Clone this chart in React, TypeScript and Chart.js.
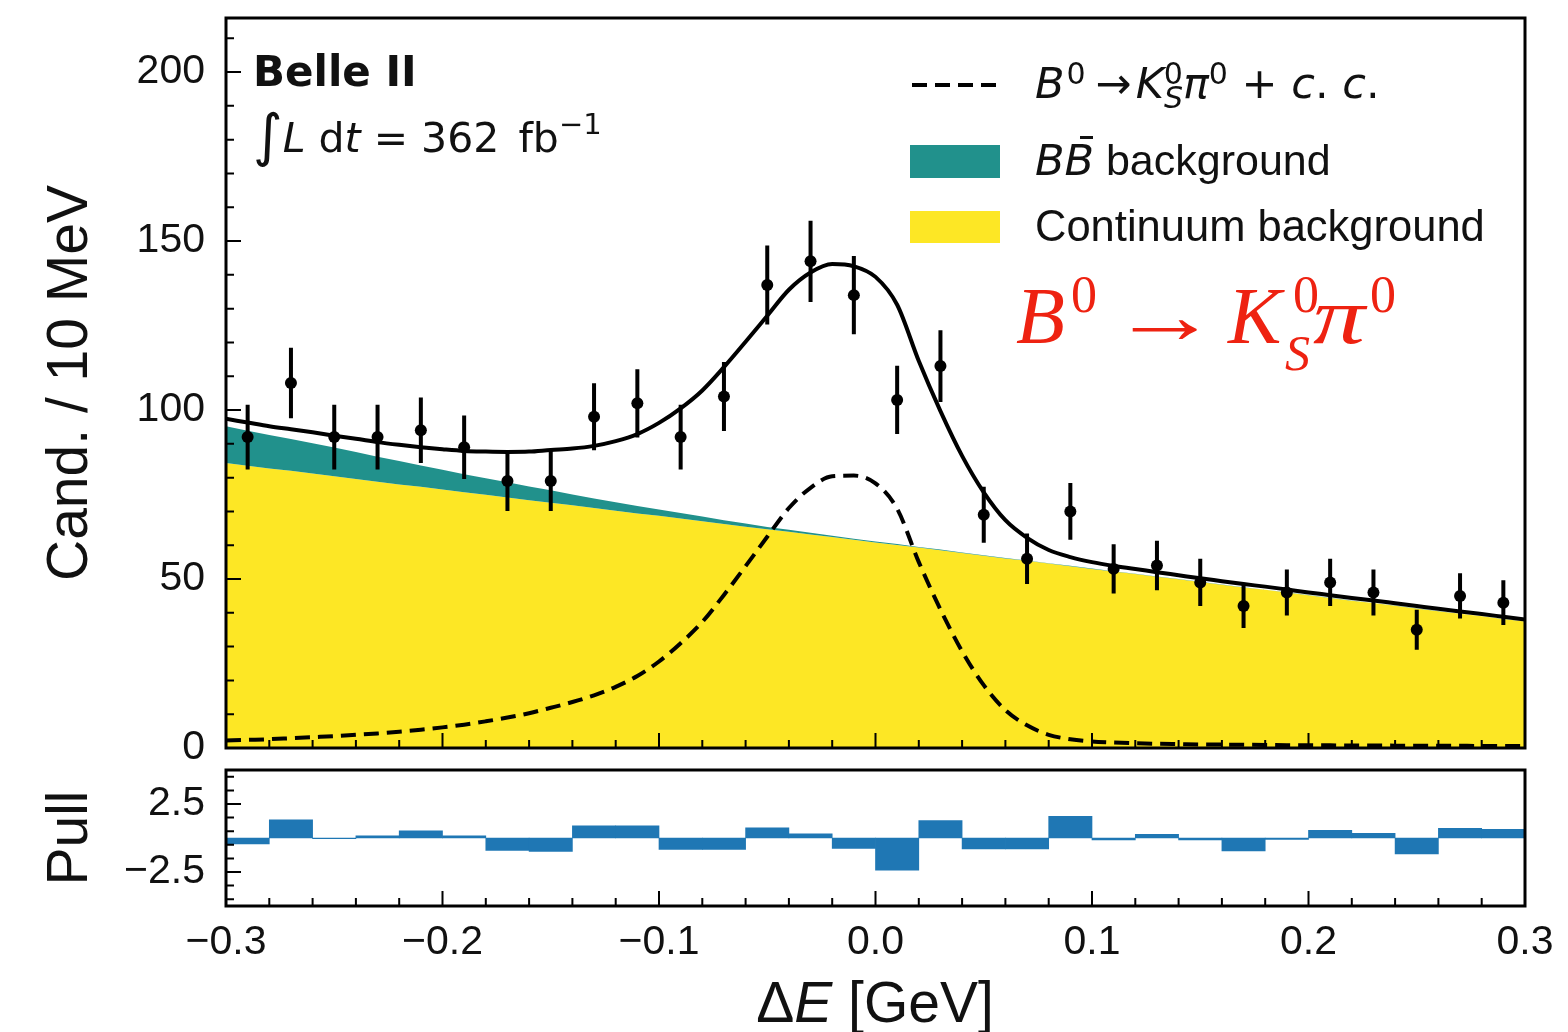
import React, { useEffect, useRef } from 'react';
import { Chart, registerables } from 'chart.js';

Chart.register(...registerables);

// ---------------- data ----------------
const binCenters = [-0.29, -0.27, -0.25, -0.23, -0.21, -0.19, -0.17, -0.15, -0.13, -0.11, -0.09, -0.07, -0.05, -0.03, -0.01, 0.01, 0.03, 0.05, 0.07, 0.09, 0.11, 0.13, 0.15, 0.17, 0.19, 0.21, 0.23, 0.25, 0.27, 0.29];
const candidates = [92, 108, 92, 92, 94, 89, 79, 79, 98, 102, 92, 104, 137, 144, 134, 103, 113, 69, 56, 70, 53, 54, 49, 42, 46, 49, 46, 35, 45, 43];
const candidateErrors = [9.6, 10.4, 9.6, 9.6, 9.7, 9.4, 8.9, 8.9, 9.9, 10.1, 9.6, 10.2, 11.7, 12.0, 11.6, 10.1, 10.6, 8.3, 7.5, 8.4, 7.3, 7.3, 7.0, 6.5, 6.8, 7.0, 6.8, 5.9, 6.7, 6.6];
const pulls = [-0.43, 1.33, -0.05, 0.16, 0.52, 0.16, -0.91, -0.99, 0.89, 0.89, -0.84, -0.84, 0.74, 0.30, -0.77, -2.36, 1.29, -0.80, -0.80, 1.59, -0.15, 0.27, -0.15, -0.95, -0.10, 0.56, 0.34, -1.17, 0.71, 0.63];

const curveX = [
  -0.30, -0.29, -0.28, -0.27, -0.26, -0.25, -0.24, -0.23, -0.22, -0.21,
  -0.20, -0.19, -0.18, -0.17, -0.16, -0.15, -0.14, -0.13, -0.12, -0.11,
  -0.10, -0.09, -0.08, -0.07, -0.06, -0.05, -0.04, -0.03, -0.02, -0.01,
  0.00, 0.01, 0.02, 0.03, 0.04, 0.05, 0.06, 0.07, 0.08, 0.09,
  0.10, 0.11, 0.12, 0.13, 0.14, 0.15, 0.16, 0.17, 0.18, 0.19,
  0.20, 0.21, 0.22, 0.23, 0.24, 0.25, 0.26, 0.27, 0.28, 0.29, 0.30,
];
const continuumCurve = [
  84.3, 83.5, 82.7, 82.0, 81.2, 80.4, 79.6, 78.8, 78.0, 77.3,
  76.5, 75.7, 74.9, 74.1, 73.3, 72.6, 71.8, 71.0, 70.2, 69.4,
  68.7, 67.9, 67.1, 66.3, 65.5, 64.7, 64.0, 63.2, 62.4, 61.6,
  60.8, 60.1, 59.3, 58.5, 57.7, 56.9, 56.1, 55.4, 54.6, 53.8,
  53.0, 52.2, 51.5, 50.7, 49.9, 49.1, 48.3, 47.5, 46.8, 46.0,
  45.2, 44.4, 43.6, 42.9, 42.1, 41.3, 40.5, 39.7, 39.0, 38.2, 37.4,
];
const bbCurve = [
  10.9, 10.4, 9.9, 9.4, 9.0, 8.5, 8.0, 7.4, 6.9, 6.3,
  5.8, 5.3, 4.9, 4.5, 4.1, 3.7, 3.2, 2.8, 2.5, 2.2,
  1.9, 1.6, 1.4, 1.1, 0.9, 0.7, 0.6, 0.5, 0.4, 0.35,
  0.3, 0.25, 0.2, 0.2, 0.15, 0.15, 0.1, 0.1, 0.1, 0.1,
  0.1, 0.08, 0.08, 0.07, 0.07, 0.06, 0.06, 0.05, 0.05, 0.05,
  0.04, 0.04, 0.04, 0.03, 0.03, 0.03, 0.03, 0.02, 0.02, 0.02, 0.02,
];
const signalCurve = [
  2.2, 2.4, 2.6, 2.9, 3.2, 3.5, 3.9, 4.3, 4.8, 5.4,
  6.1, 6.9, 7.9, 9.0, 10.3, 11.9, 13.6, 15.6, 18.1, 21.3,
  25.6, 31.0, 37.3, 45.3, 53.8, 62.5, 71.0, 77.0, 80.4, 80.6,
  78.3, 70.8, 55.0, 41.0, 28.6, 18.6, 11.2, 6.7, 3.9, 2.6,
  1.9, 1.6, 1.4, 1.25, 1.15, 1.05, 1.0, 0.95, 0.9, 0.85,
  0.8, 0.78, 0.75, 0.72, 0.7, 0.68, 0.66, 0.64, 0.62, 0.6, 0.58,
];

const yTicksMain = [0, 50, 100, 150, 200];
const yTickLabelsMain = ['0', '50', '100', '150', '200'];
const yMinorMain = [10, 20, 30, 40, 60, 70, 80, 90, 110, 120, 130, 140, 160, 170, 180, 190, 210];
const xTicks = [-0.3, -0.2, -0.1, 0, 0.1, 0.2, 0.3];
const xTickLabels = ['\u22120.3', '\u22120.2', '\u22120.1', '0.0', '0.1', '0.2', '0.3'];
const xMinor = [-0.28, -0.26, -0.24, -0.22, -0.18, -0.16, -0.14, -0.12, -0.08, -0.06, -0.04, -0.02, 0.02, 0.04, 0.06, 0.08, 0.12, 0.14, 0.16, 0.18, 0.22, 0.24, 0.26, 0.28];
const pullTicks = [-2.5, 2.5];
const pullTickLabels = ['\u22122.5', '2.5'];
const pullMinor = [-4.5, -3.5, -1.5, -0.5, 0.5, 1.5, 3.5, 4.5];

// ---------------- styles ----------------
const SANS = '"Liberation Sans", Arial, Helvetica, sans-serif';
const DEJAVU = '"DejaVu Sans", sans-serif';
const SERIF = '"Liberation Serif", "Times New Roman", serif';
const INK = '#111111';
const YELLOW = '#fde725';
const TEAL = '#21918c';
const PULL_BLUE = '#1f77b4';
const RED = '#ee2211';

function frameAndTicks(chart: any, yMajor: number[], yMinor: number[]) {
  const { ctx, chartArea: a, scales } = chart;
  const xs = scales.x;
  const ys = scales.y;
  ctx.save();
  ctx.strokeStyle = '#000';
  ctx.lineWidth = 2;
  ctx.beginPath();
  for (const v of xTicks) {
    const px = xs.getPixelForValue(v);
    ctx.moveTo(px, a.bottom);
    ctx.lineTo(px, a.bottom - 15);
  }
  for (const v of xMinor) {
    const px = xs.getPixelForValue(v);
    ctx.moveTo(px, a.bottom);
    ctx.lineTo(px, a.bottom - 8);
  }
  for (const v of yMajor) {
    const py = ys.getPixelForValue(v);
    ctx.moveTo(a.left, py);
    ctx.lineTo(a.left + 15, py);
  }
  for (const v of yMinor) {
    const py = ys.getPixelForValue(v);
    ctx.moveTo(a.left, py);
    ctx.lineTo(a.left + 8, py);
  }
  ctx.stroke();
  ctx.lineWidth = 3;
  ctx.strokeRect(a.left, a.top, a.right - a.left, a.bottom - a.top);
  ctx.restore();
}

const mainPlugin = {
  id: 'mainDecor',
  afterDatasetsDraw(chart: any) {
    const { ctx, scales } = chart;
    const xs = scales.x;
    const ys = scales.y;
    ctx.save();
    ctx.strokeStyle = '#000';
    ctx.lineWidth = 4;
    ctx.beginPath();
    binCenters.forEach((x, i) => {
      const px = xs.getPixelForValue(x);
      ctx.moveTo(px, ys.getPixelForValue(candidates[i] - candidateErrors[i]));
      ctx.lineTo(px, ys.getPixelForValue(candidates[i] + candidateErrors[i]));
    });
    ctx.stroke();
    ctx.restore();
  },
  afterDraw(chart: any) {
    frameAndTicks(chart, yTicksMain, yMinorMain);
    const { ctx } = chart;
    ctx.save();
    // legend handles
    ctx.strokeStyle = '#000';
    ctx.lineWidth = 4;
    ctx.setLineDash([15, 8]);
    ctx.beginPath();
    ctx.moveTo(912, 85);
    ctx.lineTo(1000, 85);
    ctx.stroke();
    ctx.setLineDash([]);
    ctx.fillStyle = TEAL;
    ctx.fillRect(910, 145, 90, 33);
    ctx.fillStyle = YELLOW;
    ctx.fillRect(910, 211, 90, 32);
    ctx.restore();
  },
};

const pullPlugin = {
  id: 'pullDecor',
  afterDraw(chart: any) {
    frameAndTicks(chart, pullTicks, pullMinor);
  },
};

function txt(x: number, base: number, size: number, family: string, k = 0.846): any {
  return {
    position: 'absolute',
    left: x,
    top: base - k * size,
    fontSize: size,
    lineHeight: `${size}px`,
    fontFamily: family,
    whiteSpace: 'nowrap',
    color: INK,
  };
}

const Sup = ({ children, size, rise, ml = 0, italic = false }: any) => (
  <span style={{ fontSize: size, position: 'relative', top: -rise, lineHeight: 0, marginLeft: ml, fontStyle: italic ? 'italic' : 'normal' }}>{children}</span>
);

// piece of the red decay label, placed by baseline
const RedPiece = ({ x, base, size, italic = false, sx = 1, children }: any) => (
  <span
    style={{
      ...txt(x, base, size, SERIF, 0.8375),
      color: RED,
      fontStyle: italic ? 'italic' : 'normal',
      transform: sx !== 1 ? `scaleX(${sx})` : undefined,
      transformOrigin: 'left center',
    }}
  >
    {children}
  </span>
);

export default function App() {
  const mainRef = useRef<HTMLCanvasElement>(null);
  const pullRef = useRef<HTMLCanvasElement>(null);

  useEffect(() => {
    const contPts = curveX.map((x, i) => ({ x, y: continuumCurve[i] }));
    const bbPts = curveX.map((x, i) => ({ x, y: continuumCurve[i] + bbCurve[i] }));
    const sigPts = curveX.map((x, i) => ({ x, y: signalCurve[i] }));
    const totPts = curveX.map((x, i) => ({ x, y: continuumCurve[i] + bbCurve[i] + signalCurve[i] }));
    const dataPts = binCenters.map((x, i) => ({ x, y: candidates[i] }));

    const main = new Chart(mainRef.current as HTMLCanvasElement, {
      type: 'line',
      data: {
        datasets: [
          { label: 'Data', data: dataPts, showLine: false, pointRadius: 6, pointBackgroundColor: '#000', pointBorderWidth: 0, pointBorderColor: '#000', order: 0 } as any,
          { label: 'Fit', data: totPts, borderColor: '#000', borderWidth: 4, pointRadius: 0, fill: false, cubicInterpolationMode: 'monotone', order: 1 },
          { label: 'B0 -> KS pi0 + c.c.', data: sigPts, borderColor: '#000', borderWidth: 4, borderDash: [15, 8], pointRadius: 0, fill: false, cubicInterpolationMode: 'monotone', order: 2 },
          { label: 'BB background', data: bbPts, borderColor: 'rgba(0,0,0,0)', borderWidth: 0, pointRadius: 0, backgroundColor: TEAL, fill: 4, order: 3 },
          { label: 'Continuum background', data: contPts, borderColor: 'rgba(0,0,0,0)', borderWidth: 0, pointRadius: 0, backgroundColor: YELLOW, fill: 'origin', order: 4 },
        ],
      },
      options: {
        responsive: false,
        animation: false,
        events: [],
        layout: { autoPadding: false, padding: { left: 0, right: 43, top: 18, bottom: 32 } },
        plugins: { legend: { display: false }, tooltip: { enabled: false } },
        scales: {
          x: { type: 'linear', min: -0.3, max: 0.3, display: false },
          y: {
            type: 'linear',
            min: 0,
            max: 216,
            afterBuildTicks: (s: any) => { s.ticks = yTicksMain.map((v) => ({ value: v })); },
            afterFit: (s: any) => { s.width = 226; s.paddingTop = 0; s.paddingBottom = 0; },
            grid: { display: false, drawTicks: false },
            border: { display: false },
            ticks: { padding: 21, color: INK, font: { family: SANS, size: 41 }, callback: (_v: any, i: number) => yTickLabelsMain[i] },
            title: { display: true, text: 'Cand. / 10 MeV', color: INK, font: { family: SANS, size: 57 }, padding: { top: 37, bottom: 0 } },
          },
        },
      } as any,
      plugins: [mainPlugin],
    });

    const pull = new Chart(pullRef.current as HTMLCanvasElement, {
      type: 'bar',
      data: {
        datasets: [
          { label: 'Pull', data: binCenters.map((x, i) => ({ x, y: pulls[i] })), backgroundColor: PULL_BLUE, borderWidth: 0, barPercentage: 1, categoryPercentage: 1 } as any,
        ],
      },
      options: {
        responsive: false,
        animation: false,
        events: [],
        layout: { autoPadding: false, padding: { left: 0, right: 43, top: 20, bottom: 0 } },
        plugins: { legend: { display: false }, tooltip: { enabled: false } },
        scales: {
          x: {
            type: 'linear',
            min: -0.3,
            max: 0.3,
            offset: false,
            afterBuildTicks: (s: any) => { s.ticks = xTicks.map((v) => ({ value: v })); },
            afterFit: (s: any) => { s.height = 126; s.paddingLeft = 0; s.paddingRight = 0; },
            grid: { display: false, drawTicks: false, offset: false },
            border: { display: false },
            ticks: { padding: 12, maxRotation: 0, autoSkip: false, color: INK, font: { family: SANS, size: 41 }, callback: (_v: any, i: number) => xTickLabels[i] },
          },
          y: {
            type: 'linear',
            min: -5,
            max: 5,
            afterBuildTicks: (s: any) => { s.ticks = pullTicks.map((v) => ({ value: v })); },
            afterFit: (s: any) => { s.width = 226; s.paddingTop = 0; s.paddingBottom = 0; },
            grid: { display: false, drawTicks: false },
            border: { display: false },
            ticks: { padding: 21, color: INK, font: { family: SANS, size: 41 }, callback: (_v: any, i: number) => pullTickLabels[i] },
            title: { display: true, text: 'Pull', color: INK, font: { family: SANS, size: 57 }, padding: { top: 37, bottom: 0 } },
          },
        },
      } as any,
      plugins: [pullPlugin],
    });

    return () => {
      main.destroy();
      pull.destroy();
    };
  }, []);

  return (
    <div style={{ position: 'fixed', left: 0, top: 0, width: 1568, height: 1032, overflow: 'hidden', background: '#fff' }}>
      <canvas ref={mainRef} width={1568} height={780} style={{ position: 'absolute', left: 0, top: 0 }} />
      <canvas ref={pullRef} width={1568} height={282} style={{ position: 'absolute', left: 0, top: 750 }} />

      {/* experiment label */}
      <div style={{ ...txt(253, 87, 42, DEJAVU), fontWeight: 'bold' }}>Belle II</div>
      <div style={txt(253, 153, 41, DEJAVU)}>
        <span style={{ fontSize: 57, position: 'relative', top: 3, lineHeight: 0 }}>∫</span>
        <i>L</i> d<i>t</i> = 362 <span style={{ marginLeft: 6 }}>fb</span><Sup size={29} rise={18}>−1</Sup>
      </div>

      {/* legend texts */}
      <div style={txt(1035, 98, 43, DEJAVU)}>
        <i>B</i><Sup size={30} rise={14} ml={2}>0</Sup>
        <span style={{ marginLeft: 10, marginRight: 4 }}>→</span>
        <i>K</i><Sup size={30} rise={14}>0</Sup><Sup size={30} rise={-10} ml={-19} italic>S</Sup>
        <i>π</i><Sup size={30} rise={14}>0</Sup>
        <span> + </span><i>c</i>. <i>c</i>.
      </div>
      <div style={txt(1035, 175, 43, DEJAVU)}>
        <i>B</i>
        <span style={{ position: 'relative', fontStyle: 'italic' }}>
          B
          <span style={{ position: 'absolute', left: 15, top: 1, width: 13, height: 3, background: INK }} />
        </span>
        <span style={{ fontFamily: SANS }}> background</span>
      </div>
      <div style={{ ...txt(1035, 242, 43.5, SANS) }}>Continuum background</div>

      {/* decay label */}
      <div style={{ position: 'absolute', left: 0, top: 0 }}>
        <RedPiece x={1016} base={343} size={80} italic>B</RedPiece>
        <RedPiece x={1071} base={313} size={52}>0</RedPiece>
        <RedPiece x={1111} base={343} size={80} sx={1.35}>→</RedPiece>
        <RedPiece x={1228} base={343} size={80} italic>K</RedPiece>
        <RedPiece x={1293} base={313} size={52}>0</RedPiece>
        <RedPiece x={1285} base={370} size={50} italic>S</RedPiece>
        <RedPiece x={1313} base={343} size={80} italic sx={1.3}>π</RedPiece>
        <RedPiece x={1370} base={313} size={52}>0</RedPiece>
      </div>

      {/* x axis title */}
      <div style={{ ...txt(875, 1022, 57, SANS), transform: 'translateX(-50%)' }}>
        Δ<i>E</i> [GeV]
      </div>
    </div>
  );
}
